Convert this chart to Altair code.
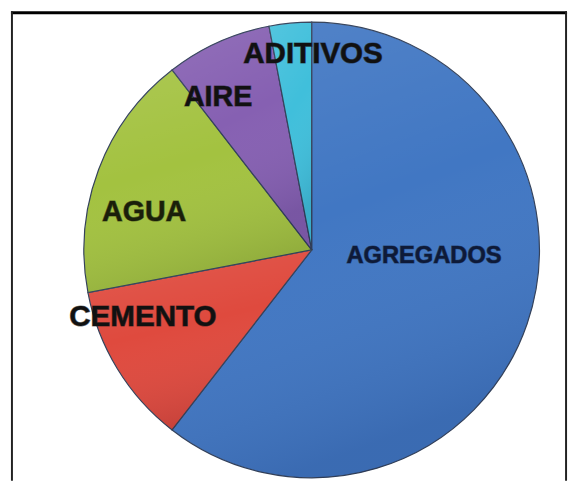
import altair as alt
import pandas as pd

categories = ["AGREGADOS", "CEMENTO", "AGUA", "AIRE", "ADITIVOS"]
values = [60.5, 11.5, 17.5, 7.5, 3.0]
colors = ["#4177c3", "#df4a3e", "#a3c240", "#8660b2", "#40bfdb"]

df = pd.DataFrame({"cat": categories, "value": values, "idx": list(range(len(categories)))})

W, H = 564, 476
CX, CY = 305, 242
R = 231

base = alt.Chart(df).encode(
    theta=alt.Theta("value:Q", stack=True),
    order=alt.Order("idx:Q"),
    x=alt.value(CX),
    y=alt.value(CY),
)

pie = base.mark_arc(outerRadius=R, stroke="#33415a", strokeWidth=1.2).encode(
    color=alt.Color("cat:N", scale=alt.Scale(domain=categories, range=colors), legend=None)
)

shade = base.mark_arc(
    outerRadius=R,
    fill={
        "gradient": "linear", "x1": 0, "y1": 0, "x2": 0.3, "y2": 1,
        "stops": [
            {"offset": 0, "color": "rgba(255,255,255,0.10)"},
            {"offset": 0.5, "color": "rgba(255,255,255,0.0)"},
            {"offset": 1, "color": "rgba(0,0,30,0.10)"},
        ],
    },
    strokeWidth=0,
)

# label placement: (radius, dx, dy, size, color)
label_cfg = {
    "AGREGADOS": (112, 8, -30, 24, "#0e1a38"),
    "CEMENTO": (182, -16, -27, 30, "#111111"),
    "AGUA": (172, -9, 22, 29, "#1a1f0a"),
    "AIRE": (182, -20, 11, 29, "#111111"),
    "ADITIVOS": (198, 20, -1, 30, "#111111"),
}

layers = [pie, shade]
for c, (r, dx, dy, size, col) in label_cfg.items():
    txt = alt.condition(f"datum.cat == '{c}'", alt.Text("cat:N"), alt.value(""))
    label = base.mark_text(radius=r, dx=dx, dy=dy, font="Liberation Sans", fontWeight="bold",
                           fontSize=size, color=col, stroke=col, strokeWidth=1.2,
                           strokeOpacity=0.55).encode(text=txt)
    layers.append(label)

one = alt.Chart(pd.DataFrame({"a": [0]}))
top = one.mark_rule(color="#000000", strokeWidth=3).encode(
    x=alt.value(0), x2=alt.value(W), y=alt.value(1.5))
left = one.mark_rule(color="#222222", strokeWidth=2).encode(
    x=alt.value(1), y=alt.value(0), y2=alt.value(H))
right = one.mark_rule(color="#222222", strokeWidth=2).encode(
    x=alt.value(W - 1), y=alt.value(0), y2=alt.value(H))

chart = alt.layer(*layers, top, left, right).properties(
    width=W, height=H,
    autosize=alt.AutoSizeParams(type="none"),
    padding={"left": 3, "top": 0, "right": 3, "bottom": 0},
).configure_view(stroke=None)

chart.save("out.html", embed_options={"renderer": "svg", "actions": False})
